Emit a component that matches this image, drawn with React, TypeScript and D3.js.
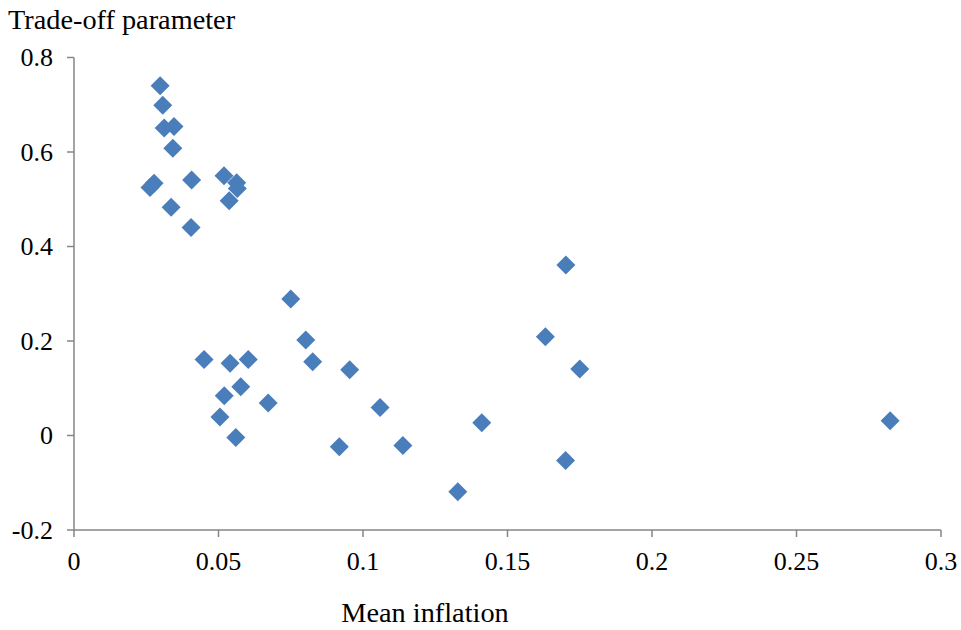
import React from "react";
import * as d3 from "d3";

const meanInflation = [
  0.0298, 0.0307, 0.0312, 0.0346, 0.0342, 0.0263, 0.0277, 0.0407, 0.0519, 0.0563, 0.0565, 0.0537, 0.0336, 0.0405,
  0.045, 0.054, 0.0603, 0.0577, 0.052, 0.0672, 0.0505, 0.056,
  0.075, 0.0802, 0.0826, 0.0954, 0.1059, 0.0918, 0.1138, 0.1411, 0.1328, 0.1631, 0.175, 0.1701, 0.1702, 0.2824,
];
const tradeOff = [
  0.74, 0.699, 0.651, 0.654, 0.608, 0.525, 0.534, 0.541, 0.55, 0.535, 0.523, 0.497, 0.483, 0.44,
  0.161, 0.153, 0.161, 0.103, 0.084, 0.069, 0.039, -0.004,
  0.289, 0.202, 0.156, 0.139, 0.059, -0.024, -0.021, 0.027, -0.119, 0.209, 0.141, -0.053, 0.361, 0.031,
];
const xTicks = [0, 0.05, 0.1, 0.15, 0.2, 0.25, 0.3];
const xTickLabels = ["0", "0.05", "0.1", "0.15", "0.2", "0.25", "0.3"];
const yTicks = [-0.2, 0, 0.2, 0.4, 0.6, 0.8];
const yTickLabels = ["-0.2", "0", "0.2", "0.4", "0.6", "0.8"];

const W = 961;
const H = 630;
const FONT = "Liberation Serif, Times New Roman, DejaVu Serif, serif";
const AXIS = "#868686";
const MARK = "#4A7EBB";
const tickTxt = { fontFamily: FONT, fontSize: 26 };
const titleTxt = { fontFamily: FONT, fontSize: 28.3 };

export default function App() {
  const x = d3.scaleLinear().domain([0, 0.3]).range([74, 941]);
  const y = d3.scaleLinear().domain([-0.2, 0.8]).range([530, 57.5]);
  const r = 9.5;
  const diamond = (cx: number, cy: number) =>
    `M${cx},${cy - r}L${cx + r},${cy}L${cx},${cy + r}L${cx - r},${cy}Z`;
  return (
    <svg
      width={W}
      height={H}
      style={{ position: "absolute", left: 0, top: 0, background: "#fff" }}
    >
      <rect width={W} height={H} fill="#fff" />
      <line x1={x(0)} x2={x(0)} y1={y(0.8)} y2={y(-0.2)} stroke={AXIS} strokeWidth={1.5} />
      <line x1={x(0)} x2={x(0.3)} y1={y(-0.2)} y2={y(-0.2)} stroke={AXIS} strokeWidth={1.5} />
      {yTicks.map((t, i) => (
        <g key={"y" + i}>
          <line x1={x(0) - 7} x2={x(0)} y1={y(t)} y2={y(t)} stroke={AXIS} strokeWidth={1.5} />
          <text x={53} y={y(t)} dy="0.34em" textAnchor="end" style={tickTxt} fill="#000">
            {yTickLabels[i]}
          </text>
        </g>
      ))}
      {xTicks.map((t, i) => (
        <g key={"x" + i}>
          <line x1={x(t)} x2={x(t)} y1={y(-0.2)} y2={y(-0.2) + 7} stroke={AXIS} strokeWidth={1.5} />
          <text x={x(t)} y={569.5} textAnchor="middle" style={tickTxt} fill="#000">
            {xTickLabels[i]}
          </text>
        </g>
      ))}
      {meanInflation.map((v, i) => (
        <path key={"p" + i} d={diamond(x(v), y(tradeOff[i]))} fill={MARK} />
      ))}
      <text x={8} y={29} style={titleTxt} fill="#000">
        Trade-off parameter
      </text>
      <text x={425} y={622} textAnchor="middle" style={titleTxt} fill="#000">
        Mean inflation
      </text>
    </svg>
  );
}
